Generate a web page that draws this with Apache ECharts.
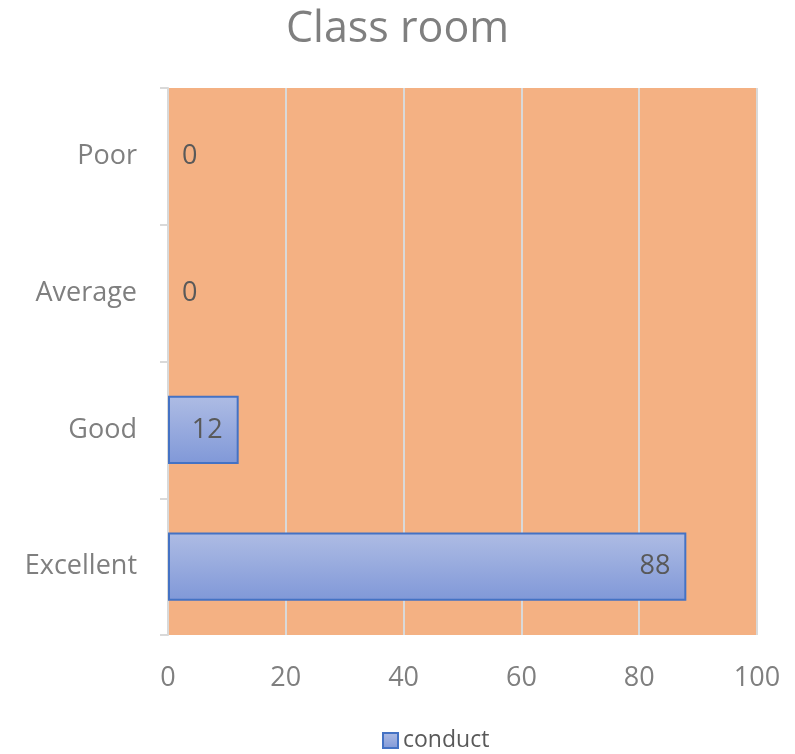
<!DOCTYPE html>
<html><head><meta charset="utf-8">
<script src="https://cdn.jsdelivr.net/npm/echarts@6/dist/echarts.min.js"></script>
<style>html,body{margin:0;padding:0;background:#fff}#c{width:795px;height:754px}</style>
</head><body><div id="c"></div>
<script>
const categories = ['Excellent', 'Good', 'Average', 'Poor'];
const conduct = [88, 12, 0, 0];
const seriesName = 'conduct';
const titleText = 'Class room';

const font = '"Open Sans", sans-serif';
const chart = echarts.init(document.getElementById('c'));
chart.setOption({
  backgroundColor: '#fff',
  title: { text: titleText, left: 'center', top: 3,
    textStyle: { fontFamily: font, fontSize: 43, fontWeight: 'normal', color: '#7F7F7F' } },
  legend: { bottom: -3, left: 377, icon: 'rect', itemWidth: 15, itemHeight: 15, itemGap: 5,
    textStyle: { fontFamily: font, fontSize: 23, color: '#595959' }, data: [seriesName] },
  grid: { left: 168, right: 38, top: 88, bottom: 119, show: true, backgroundColor: '#F4B183', borderWidth: 0 },
  xAxis: { type: 'value', min: 0, max: 100, interval: 20,
    axisLine: { show: false }, axisTick: { show: false },
    splitLine: { lineStyle: { color: '#D9D9D9', width: 2 } },
    axisLabel: { margin: 30, fontFamily: font, fontSize: 27, color: '#7F7F7F' } },
  yAxis: { type: 'category', data: categories,
    axisLine: { lineStyle: { color: '#D9D9D9', width: 2 } },
    axisTick: { show: true, length: 8, lineStyle: { color: '#D9D9D9', width: 2 } },
    axisLabel: { margin: 31, fontFamily: font, fontSize: 27, color: '#7F7F7F' } },
  series: [{
    name: seriesName, type: 'bar', barWidth: '50%',
    data: conduct.map(v => ({ value: v,
      itemStyle: v === 0 ? { borderWidth: 0 } : {},
      label: v === 0 ? { position: 'right', distance: 14 } : {} })),
    itemStyle: {
      color: new echarts.graphic.LinearGradient(0, 0, 0, 1, [
        { offset: 0, color: '#AEBCE4' }, { offset: 1, color: '#8098D8' }]),
      borderColor: '#4472C4', borderWidth: 2
    },
    label: { show: true, position: 'insideRight', distance: 16,
      fontFamily: font, fontSize: 27, color: '#595959' }
  }]
});
</script></body></html>
